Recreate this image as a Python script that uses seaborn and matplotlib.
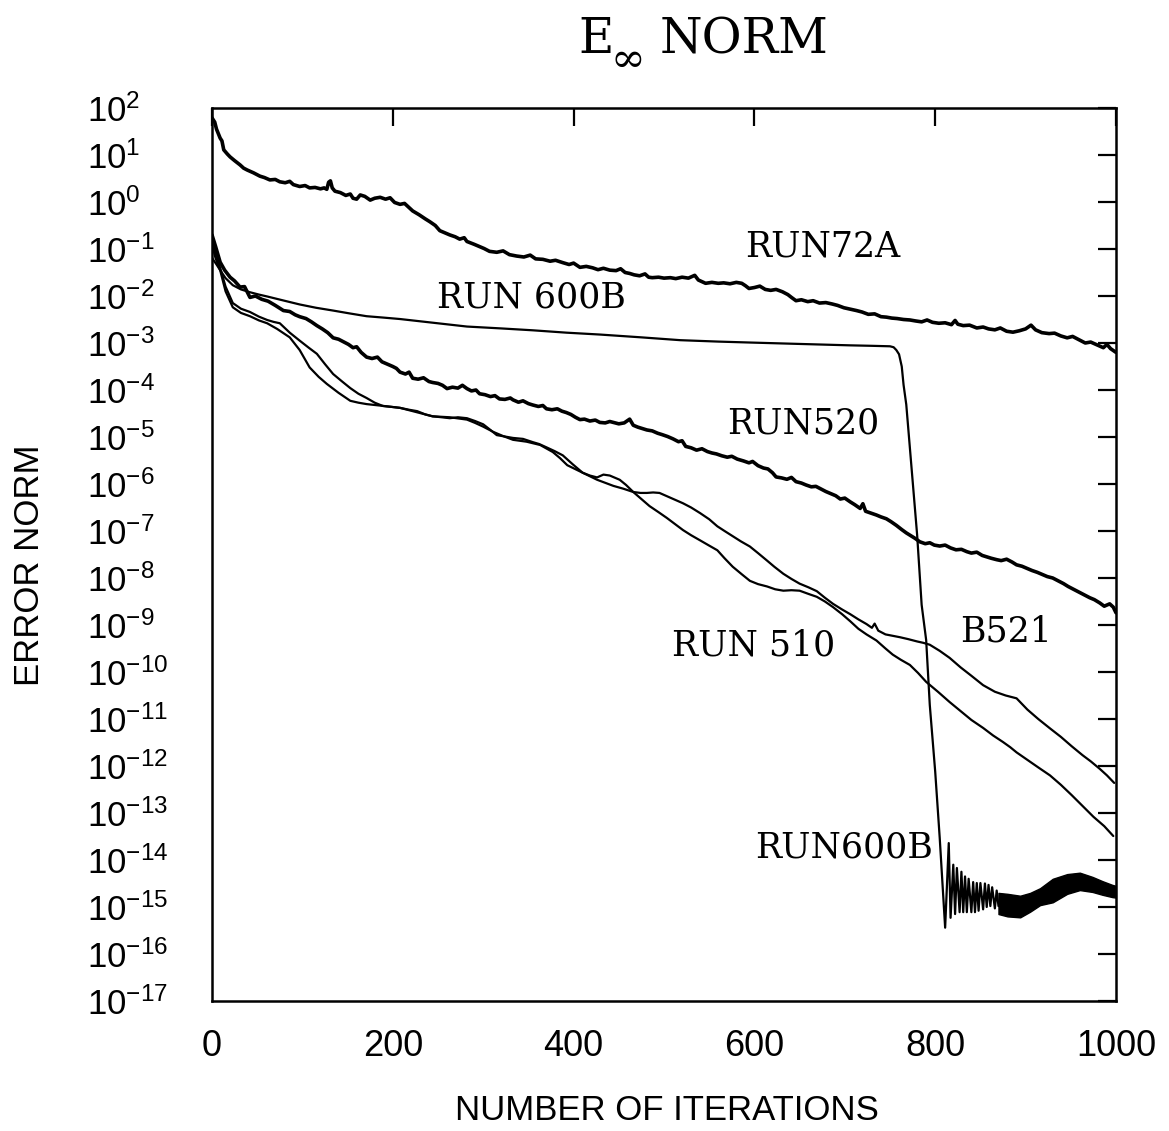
import numpy as np
import pandas as pd
import matplotlib
matplotlib.use("Agg")
import matplotlib.pyplot as plt
import seaborn as sns
from matplotlib.ticker import FixedLocator, FuncFormatter, NullLocator

# ---------------- data (iteration, log10 of error norm) ----------------
run72a_iter = [0, 3, 5, 9, 11, 13, 17, 20, 25, 31, 35, 39, 46, 53, 58, 64, 70, 75, 81, 86, 90, 97,
               103, 108, 114, 120, 124, 127, 129, 131, 133, 136, 142, 148, 153, 156, 160, 164, 169,
               175, 180, 186, 192, 197, 202, 208, 213, 218, 222, 229, 236, 241, 247, 252, 258, 263,
               269, 274, 279, 282, 290, 296, 301, 307, 315, 322, 329, 337, 345, 352, 358, 366, 374,
               380, 388, 395, 400, 407, 414, 421, 427, 433, 440, 447, 452, 457, 462, 467, 473, 479,
               483, 487, 494, 500, 507, 513, 520, 527, 534, 538, 546, 553, 560, 566, 573, 580, 586,
               590, 594, 600, 606, 612, 618, 624, 631, 637, 641, 646, 652, 659, 665, 672, 679, 686,
               692, 699, 706, 713, 719, 726, 733, 740, 746, 752, 758, 765, 772, 778, 785, 791, 797,
               804, 811, 818, 822, 825, 831, 838, 846, 853, 859, 866, 872, 879, 886, 893, 900, 906,
               911, 918, 926, 932, 939, 946, 952, 959, 966, 972, 979, 986, 990, 994, 1000]
run72a_log = [1.79, 1.70, 1.55, 1.36, 1.30, 1.11, 1.02, 0.96, 0.88, 0.79, 0.72, 0.68, 0.62, 0.55,
              0.52, 0.47, 0.48, 0.43, 0.41, 0.44, 0.37, 0.33, 0.35, 0.30, 0.31, 0.28, 0.30, 0.27,
              0.42, 0.45, 0.30, 0.23, 0.20, 0.14, 0.17, 0.08, 0.06, 0.15, 0.12, 0.04, 0.08, 0.10,
              0.06, 0.09, -0.01, -0.05, -0.03, -0.12, -0.19, -0.27, -0.36, -0.42, -0.50, -0.61,
              -0.66, -0.70, -0.74, -0.79, -0.76, -0.84, -0.90, -0.95, -0.99, -1.05, -1.07, -1.04,
              -1.12, -1.15, -1.17, -1.13, -1.21, -1.22, -1.26, -1.24, -1.29, -1.33, -1.30, -1.39,
              -1.37, -1.40, -1.44, -1.41, -1.45, -1.46, -1.42, -1.50, -1.52, -1.55, -1.57, -1.53,
              -1.60, -1.61, -1.60, -1.62, -1.61, -1.63, -1.60, -1.62, -1.56, -1.66, -1.73, -1.71,
              -1.73, -1.72, -1.74, -1.71, -1.73, -1.78, -1.84, -1.82, -1.79, -1.86, -1.88, -1.86,
              -1.91, -1.97, -2.03, -2.10, -2.08, -2.12, -2.10, -2.15, -2.14, -2.17, -2.20, -2.25,
              -2.28, -2.31, -2.34, -2.39, -2.38, -2.44, -2.45, -2.47, -2.48, -2.50, -2.51, -2.53,
              -2.55, -2.51, -2.56, -2.58, -2.57, -2.61, -2.52, -2.60, -2.63, -2.62, -2.68, -2.66,
              -2.70, -2.72, -2.68, -2.75, -2.77, -2.74, -2.70, -2.62, -2.72, -2.78, -2.80, -2.79,
              -2.85, -2.89, -2.86, -2.93, -3.00, -2.98, -3.04, -3.10, -3.03, -3.12, -3.20]

run520_iter = [0, 4, 9, 14, 20, 25, 31, 36, 42, 48, 55, 62, 70, 79, 86, 92, 97, 104, 110, 116, 122,
               128, 134, 140, 146, 151, 156, 160, 165, 171, 177, 183, 188, 194, 200, 204, 208, 214,
               218, 222, 228, 234, 240, 244, 250, 255, 260, 266, 272, 277, 282, 287, 292, 296, 302,
               308, 313, 318, 324, 330, 333, 339, 344, 350, 355, 361, 366, 370, 376, 382, 387, 392,
               397, 402, 407, 412, 418, 424, 429, 435, 440, 444, 450, 456, 462, 466, 471, 476, 481,
               487, 493, 498, 504, 510, 516, 520, 524, 530, 536, 542, 548, 553, 558, 564, 570, 575,
               581, 588, 594, 598, 604, 610, 615, 620, 624, 630, 636, 641, 646, 652, 657, 663, 668,
               673, 679, 684, 690, 695, 700, 706, 711, 717, 720, 723, 729, 735, 740, 746, 751, 757,
               763, 768, 773, 778, 783, 789, 794, 799, 805, 811, 817, 823, 829, 835, 840, 846, 852,
               857, 862, 868, 873, 879, 885, 890, 896, 902, 907, 913, 918, 924, 930, 935, 942, 947,
               953, 959, 965, 971, 976, 982, 987, 993, 997, 1000]
run520_log = [-0.70, -0.95, -1.28, -1.45, -1.60, -1.68, -1.81, -1.80, -2.03, -2.00, -2.07, -2.11,
              -2.20, -2.31, -2.33, -2.40, -2.44, -2.48, -2.55, -2.63, -2.70, -2.78, -2.89, -2.92,
              -2.98, -3.03, -3.10, -3.08, -3.20, -3.30, -3.33, -3.30, -3.40, -3.45, -3.50, -3.54,
              -3.62, -3.66, -3.62, -3.75, -3.77, -3.74, -3.82, -3.84, -3.86, -3.90, -3.97, -3.94,
              -3.96, -3.90, -3.97, -4.02, -4.00, -4.08, -4.10, -4.14, -4.12, -4.19, -4.20, -4.17,
              -4.21, -4.26, -4.23, -4.29, -4.32, -4.35, -4.33, -4.40, -4.42, -4.40, -4.45, -4.48,
              -4.52, -4.58, -4.63, -4.62, -4.66, -4.64, -4.69, -4.70, -4.67, -4.69, -4.72, -4.70,
              -4.62, -4.75, -4.79, -4.82, -4.85, -4.87, -4.92, -4.95, -4.99, -5.04, -5.10, -5.08,
              -5.20, -5.23, -5.28, -5.25, -5.31, -5.34, -5.36, -5.40, -5.43, -5.41, -5.47, -5.51,
              -5.55, -5.52, -5.61, -5.66, -5.68, -5.76, -5.85, -5.87, -5.90, -5.86, -5.95, -5.98,
              -6.02, -6.06, -6.05, -6.10, -6.16, -6.20, -6.25, -6.32, -6.30, -6.38, -6.44, -6.52,
              -6.42, -6.58, -6.62, -6.66, -6.70, -6.74, -6.80, -6.88, -6.97, -7.04, -7.10, -7.16,
              -7.23, -7.27, -7.25, -7.30, -7.32, -7.30, -7.36, -7.40, -7.39, -7.44, -7.47, -7.45,
              -7.52, -7.55, -7.58, -7.61, -7.63, -7.60, -7.66, -7.72, -7.75, -7.80, -7.84, -7.88,
              -7.92, -7.97, -8.00, -8.05, -8.12, -8.18, -8.24, -8.30, -8.36, -8.42, -8.46, -8.53,
              -8.60, -8.55, -8.62, -8.74]

run600b_iter = [0, 5, 9, 15, 23, 32, 42, 52, 61, 80, 97, 115, 134, 152, 171, 190, 208, 245, 282,
                320, 355, 392, 429, 475, 518, 560, 595, 650, 706, 730, 750, 754, 757, 760, 763,
                765, 768, 780, 785, 790, 794, 800, 805, 811,
                815, 817, 820, 822, 824, 827, 829, 831, 833, 835, 837, 840, 842, 844, 846, 848,
                850, 853, 855, 857, 859, 861, 863, 866, 868, 870]
run600b_log = [-1.19, -1.33, -1.45, -1.62, -1.77, -1.86, -1.92, -1.97, -2.01, -2.10, -2.18, -2.25,
               -2.31, -2.37, -2.43, -2.46, -2.49, -2.57, -2.65, -2.69, -2.73, -2.78, -2.82, -2.88,
               -2.94, -2.97, -2.99, -3.02, -3.05, -3.06, -3.07, -3.09, -3.15, -3.24, -3.50, -3.89,
               -4.31, -7.08, -8.57, -9.32, -10.70, -12.12, -13.53, -15.44,
               -13.64, -15.23, -14.10, -15.15, -14.17, -15.11, -14.25, -15.11, -14.35, -15.11,
               -14.40, -15.11, -14.47, -15.11, -14.49, -15.08, -14.49, -15.05, -14.50, -15.00,
               -14.53, -14.98, -14.58, -15.03, -14.65, -14.98]

# late, densely oscillating part of RUN600B: band between lower and upper envelope
band_iter = [870, 880, 894, 905, 916, 930, 946, 960, 974, 985, 996, 1000]
band_upper = [-14.70, -14.72, -14.76, -14.70, -14.60, -14.40, -14.30, -14.27, -14.36, -14.45,
              -14.53, -14.55]
band_lower = [-15.15, -15.20, -15.22, -15.10, -14.96, -14.90, -14.72, -14.64, -14.68, -14.74,
              -14.79, -14.80]

b521_iter = [0, 4, 9, 15, 23, 32, 42, 52, 61, 68, 75, 86, 97, 107, 116, 125, 134, 144, 153, 162,
             171, 180, 189, 199, 208, 218, 227, 236, 244, 254, 263, 272, 282, 291, 300, 308, 315,
             324, 333, 344, 355, 362, 370, 379, 388, 399, 410, 418, 426, 433, 440, 451, 458, 466,
             474, 481, 488, 495, 508, 521, 530, 540, 550, 559, 567, 576, 585, 595, 604, 614, 622,
             632, 641, 650, 660, 669, 678, 687, 697, 706, 715, 724, 730, 733, 737, 745, 753, 761,
             770, 780, 787, 794, 805, 816, 828, 840, 853, 866, 878, 890, 902, 914, 927, 939, 951,
             963, 972, 982, 990, 998]
b521_log = [-0.81, -1.10, -1.40, -1.80, -2.15, -2.27, -2.34, -2.44, -2.51, -2.55, -2.58, -2.78,
            -2.95, -3.10, -3.23, -3.45, -3.66, -3.82, -3.96, -4.08, -4.17, -4.27, -4.34, -4.36,
            -4.38, -4.42, -4.45, -4.52, -4.56, -4.58, -4.60, -4.58, -4.60, -4.66, -4.73, -4.85,
            -4.96, -4.99, -5.02, -5.04, -5.11, -5.15, -5.22, -5.30, -5.39, -5.58, -5.76, -5.82,
            -5.86, -5.80, -5.82, -5.91, -6.02, -6.17, -6.19, -6.19, -6.18, -6.19, -6.30, -6.41,
            -6.50, -6.62, -6.75, -6.90, -7.00, -7.11, -7.22, -7.33, -7.47, -7.63, -7.76, -7.91,
            -8.02, -8.12, -8.20, -8.28, -8.42, -8.55, -8.67, -8.77, -8.88, -8.98, -9.06, -8.97,
            -9.12, -9.20, -9.23, -9.26, -9.30, -9.35, -9.38, -9.42, -9.55, -9.70, -9.90, -10.08,
            -10.28, -10.42, -10.50, -10.56, -10.80, -11.00, -11.20, -11.38, -11.58, -11.77,
            -11.90, -12.06, -12.20, -12.36]

run510_iter = [0, 4, 9, 15, 23, 32, 42, 52, 61, 72, 86, 97, 108, 118, 127, 140, 153, 162, 171,
               190, 208, 226, 244, 263, 282, 291, 300, 311, 322, 333, 348, 363, 377, 385, 393, 410,
               426, 444, 455, 466, 475, 484, 494, 503, 512, 521, 530, 540, 549, 559, 567, 576, 586,
               595, 604, 614, 623, 632, 641, 650, 660, 669, 678, 687, 697, 706, 715, 724, 735, 745,
               753, 762, 772, 781, 790, 803, 816, 828, 840, 853, 864, 875, 883, 890, 902, 914, 927,
               939, 951, 963, 975, 987, 997]
run510_log = [-0.91, -1.20, -1.45, -1.90, -2.24, -2.36, -2.43, -2.52, -2.58, -2.70, -2.88, -3.15,
              -3.52, -3.72, -3.87, -4.06, -4.23, -4.27, -4.30, -4.34, -4.38, -4.47, -4.56, -4.58,
              -4.63, -4.70, -4.78, -4.89, -4.98, -5.06, -5.10, -5.17, -5.32, -5.45, -5.60, -5.76,
              -5.91, -6.04, -6.10, -6.17, -6.32, -6.47, -6.60, -6.72, -6.85, -6.98, -7.09, -7.20,
              -7.30, -7.41, -7.58, -7.76, -7.92, -8.06, -8.13, -8.18, -8.24, -8.27, -8.26, -8.27,
              -8.34, -8.40, -8.50, -8.62, -8.77, -8.92, -9.08, -9.20, -9.33, -9.50, -9.63, -9.74,
              -9.85, -10.02, -10.21, -10.42, -10.64, -10.83, -11.02, -11.19, -11.35, -11.49,
              -11.60, -11.71, -11.87, -12.03, -12.20, -12.40, -12.62, -12.85, -13.08, -13.28,
              -13.49]

decades = list(range(-17, 3))
x_ticks = [0, 200, 400, 600, 800, 1000]
curve_labels = ["RUN72A", "RUN 600B", "RUN520", "RUN 510", "B521", "RUN600B"]

# ---------------- style ----------------
sns.set_style("white")
plt.rcParams["font.family"] = ["Liberation Sans", "DejaVu Sans"]
plt.rcParams["mathtext.fontset"] = "custom"
plt.rcParams["mathtext.rm"] = "Liberation Sans"
plt.rcParams["mathtext.default"] = "regular"
plt.rcParams["text.color"] = "black"
plt.rcParams["axes.labelcolor"] = "black"
plt.rcParams["xtick.color"] = "black"
plt.rcParams["ytick.color"] = "black"

W, H = 1169, 1131
fig = plt.figure(figsize=(W / 100, H / 100), dpi=100)
L, R, T, B = 212, 1116, 108, 1001
ax = fig.add_axes([L / W, 1 - B / H, (R - L) / W, (B - T) / H])
ax.set_yscale("log")
ax.set_xlim(0, 1000)
ax.set_ylim(1e-17, 1e2)


def draw(it, lg, lw):
    df = pd.DataFrame({"iter": it, "err": 10.0 ** np.asarray(lg, dtype=float)})
    sns.lineplot(data=df, x="iter", y="err", ax=ax, color="black", linewidth=lw,
                 estimator=None, sort=False, legend=False)


draw(run72a_iter, run72a_log, 2.6)
draw(run520_iter, run520_log, 2.6)
draw(run600b_iter, run600b_log, 1.6)
draw(b521_iter, b521_log, 1.6)
draw(run510_iter, run510_log, 1.6)
ax.fill_between(band_iter, 10.0 ** np.asarray(band_lower), 10.0 ** np.asarray(band_upper),
                color="black", linewidth=1.0)

ax.set_xlabel("")
ax.set_ylabel("")

# ticks
ax.xaxis.set_major_locator(FixedLocator(x_ticks))
ax.yaxis.set_major_locator(FixedLocator([10.0 ** d for d in decades]))
ax.yaxis.set_minor_locator(NullLocator())
ax.xaxis.set_minor_locator(NullLocator())
ax.yaxis.set_major_formatter(FuncFormatter(lambda v, p: r"$10^{%d}$" % int(round(np.log10(v)))))
ax.tick_params(axis="both", which="major", direction="in", length=13, width=1.6,
               top=True, right=True, labelsize=25, colors="black")
ax.tick_params(axis="y", pad=90)
ax.tick_params(axis="x", pad=20, labelsize=26)
for lab in ax.get_yticklabels():
    lab.set_horizontalalignment("left")
for s in ax.spines.values():
    s.set_linewidth(1.8)
    s.set_color("black")

# axis titles
fig.text(30 / W, 1 - 565 / H, "ERROR NORM", rotation=90, ha="center", va="center",
         fontsize=25, color="black")
fig.text(667 / W, 1 - 1110 / H, "NUMBER OF ITERATIONS", ha="center", va="center",
         fontsize=25, color="black")

# title  E_inf NORM
serif = "DejaVu Serif"
fig.text(578 / W, 1 - 53 / H, "E", family=serif, fontsize=35, ha="left", va="baseline",
         color="black")
fig.text(611 / W, 1 - 72 / H, "\u221e", family=serif, fontsize=30, ha="left", va="baseline",
         color="black")
fig.text(660 / W, 1 - 53 / H, "NORM", family=serif, fontsize=35, ha="left", va="baseline",
         color="black")

# curve labels
label_pos = [(745, 246), (437, 297), (727, 423), (672, 645), (960, 632), (755, 847)]
for txt, (px, py) in zip(curve_labels, label_pos):
    ax.text((px - L) / (R - L), (B - py) / (B - T), txt, transform=ax.transAxes,
            family=serif, fontsize=25, ha="left", va="center", color="black")

fig.savefig("out.png", dpi=100, facecolor="white")
